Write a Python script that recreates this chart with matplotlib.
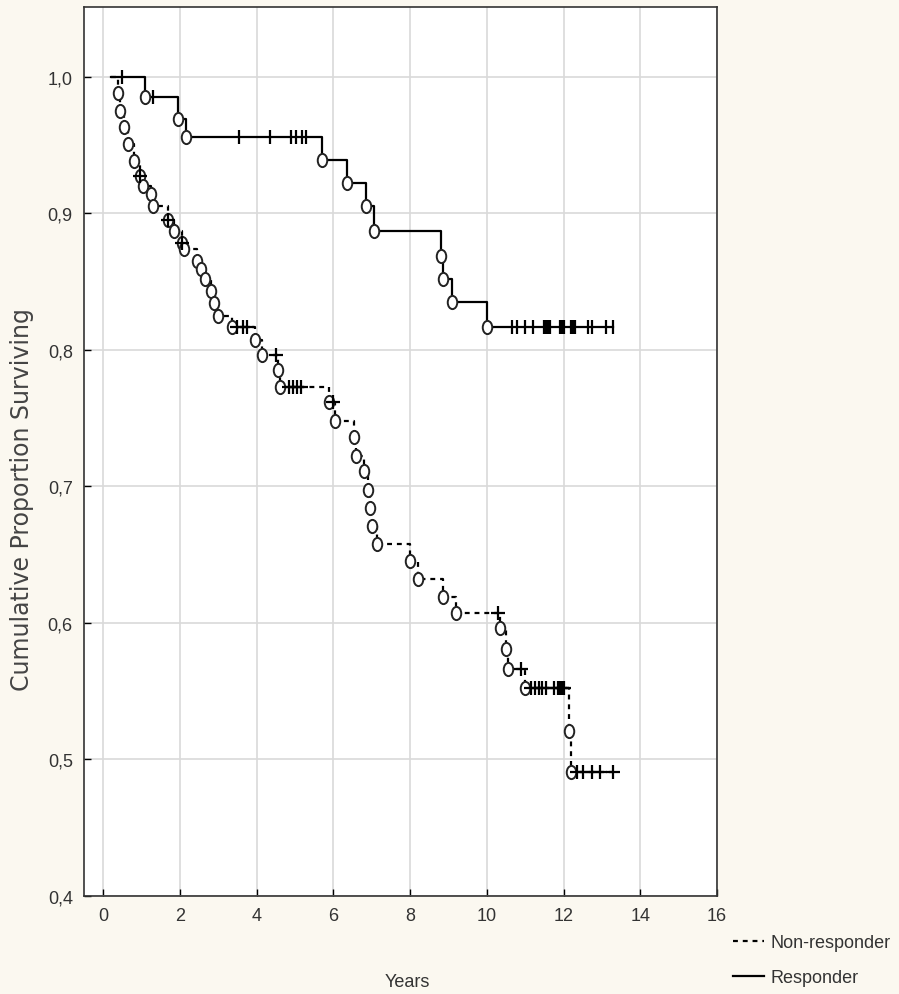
import numpy as np
import matplotlib
matplotlib.use("Agg")
import matplotlib.pyplot as plt
from matplotlib.lines import Line2D
from matplotlib.path import Path
from matplotlib.transforms import Affine2D

# Kaplan-Meier data (years, cumulative proportion surviving)
start_t = 0.2

resp_event_t = [1.1, 1.95, 2.15, 5.7, 6.35, 6.85, 7.05, 8.8, 8.85, 9.1, 10.0]
resp_event_s = [0.985, 0.969, 0.956, 0.939, 0.922, 0.905, 0.887, 0.869, 0.852, 0.835, 0.817]
resp_cens_t = [0.5, 1.3, 3.55, 4.35, 4.9, 5.03, 5.18, 5.3,
               10.65, 10.8, 11.0, 11.2, 11.5, 11.55, 11.6, 11.65, 11.9, 11.95, 12.0,
               12.2, 12.25, 12.3, 12.65, 12.75, 13.1, 13.3]

nonr_event_t = [0.4, 0.45, 0.55, 0.65, 0.8, 0.95, 1.05, 1.25, 1.3, 1.7, 1.85, 2.05, 2.1,
                2.45, 2.55, 2.65, 2.8, 2.9, 3.0, 3.35, 3.95, 4.15, 4.55, 4.6,
                5.9, 6.05, 6.55, 6.6, 6.8, 6.9, 6.95, 7.0, 7.15, 8.0, 8.2, 8.85, 9.2,
                10.35, 10.5, 10.55, 11.0, 12.15, 12.2]
nonr_event_s = [0.988, 0.975, 0.963, 0.951, 0.938, 0.927, 0.920, 0.914, 0.905, 0.895, 0.887, 0.878, 0.874,
                0.865, 0.859, 0.852, 0.843, 0.834, 0.825, 0.817, 0.807, 0.796, 0.785, 0.773,
                0.762, 0.748, 0.736, 0.722, 0.711, 0.697, 0.684, 0.671, 0.658, 0.645, 0.632, 0.619, 0.607,
                0.596, 0.581, 0.566, 0.552, 0.521, 0.491]
nonr_cens_t = [0.95, 1.7, 2.05, 3.5, 3.65, 3.75, 4.5, 4.85, 4.95, 5.05, 5.15, 6.0,
               10.3, 10.9, 11.15, 11.25, 11.35, 11.45, 11.55, 11.75, 11.85, 11.9, 11.95, 12.0,
               12.35, 12.5, 12.75, 12.95, 13.3]

labels = ["Non-responder", "Responder"]
yticks = [0.4, 0.5, 0.6, 0.7, 0.8, 0.9, 1.0]
xticks = [0, 2, 4, 6, 8, 10, 12, 14, 16]


def km_at(t, ev_t, ev_s):
    i = np.searchsorted(ev_t, t, side="right")
    return 1.0 if i == 0 else ev_s[i - 1]


plt.rcParams['font.family'] = ['Liberation Sans', 'DejaVu Sans']

fig = plt.figure(figsize=(8.99, 9.95), dpi=100, facecolor='#fbf8f0')
ax = fig.add_axes([0.0934, 0.0985, 0.7041, 0.8935])
ax.set_facecolor('white')

ellipse = Path.unit_circle().transformed(Affine2D().scale(0.72, 1.0))

groups = [
    (nonr_event_t, nonr_event_s, nonr_cens_t, (0, (2.2, 2.2)), '+'),
    (resp_event_t, resp_event_s, resp_cens_t, '-', '|'),
]
for ev_t, ev_s, cens_t, ls, cmark in groups:
    end_t = max(cens_t[-1], ev_t[-1])
    xs = [start_t] + list(ev_t) + [end_t]
    ys = [1.0] + list(ev_s) + [ev_s[-1]]
    ax.step(xs, ys, where='post', color='black', lw=1.6, ls=ls, zorder=3)
    ax.plot(ev_t, ev_s, ls='none', marker=ellipse, ms=9.5, mfc='white',
            mec='#222222', mew=1.4, zorder=4)
    cy = [km_at(t, ev_t, ev_s) for t in cens_t]
    ax.plot(cens_t, cy, ls='none', marker=cmark, ms=10, color='black', mew=1.6, zorder=5)

ax.set_xlim(-0.5, 16)
ax.set_ylim(0.4, 1.051)
ax.set_xticks(xticks)
ax.set_xticklabels([str(v) for v in xticks], fontsize=13, color='#333333')
ax.set_yticks(yticks)
ax.set_yticklabels([f"{v:.1f}".replace('.', ',') for v in yticks], fontsize=13, color='#333333')
ax.tick_params(direction='in', length=5, width=1, pad=8)
ax.grid(True, color='#d9d9d9', lw=1.2)
ax.set_axisbelow(True)
for sp in ax.spines.values():
    sp.set_linewidth(1.2)
    sp.set_color('#333333')

fig.text(22 / 899, 1 - 500 / 995, "Cumulative Proportion Surviving", rotation=90,
         ha='center', va='center', fontsize=17, color='#444444', family='DejaVu Sans')
fig.text(407 / 899, 1 - 983 / 995, "Years", ha='center', va='center', fontsize=13, color='#333333')

handles = [Line2D([], [], color='black', lw=1.6, ls=(0, (2.2, 2.2))),
           Line2D([], [], color='black', lw=1.6, ls='-')]
fig.legend(handles, labels, loc='upper left', bbox_to_anchor=(733 / 899, 1 - 935 / 995),
           frameon=False, fontsize=13, handlelength=1.7, handletextpad=0.4,
           labelspacing=1.0, borderaxespad=0, borderpad=0, labelcolor='#333333')

fig.savefig("out.png", dpi=100, facecolor=fig.get_facecolor())
